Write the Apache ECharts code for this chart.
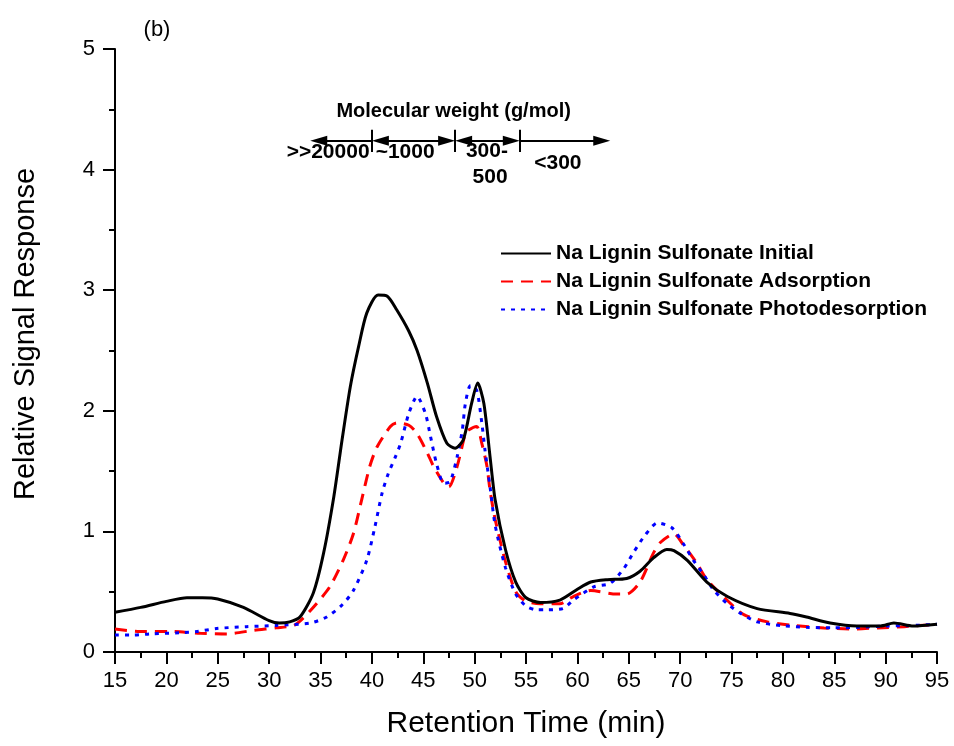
<!DOCTYPE html>
<html>
<head>
<meta charset="utf-8">
<script src="https://cdn.jsdelivr.net/npm/echarts@6/dist/echarts.min.js"></script>
<style>html,body{margin:0;padding:0;background:#fff;}#c{width:954px;height:746px;}</style>
</head>
<body>
<div id="c"></div>
<script>
// Retention time (min) and relative signal for each series
const initialX = [15,17.5,20,22,23.5,25,27.5,30,31,32,33,34.3,35.3,36.3,37.1,37.9,38.7,39.5,40.6,41.5,42.4,43.6,44.4,45.4,46.3,47.3,48.1,48.9,49.7,50.3,50.9,51.5,52,53,54,55,56.4,58.3,60,61.3,62.9,64.8,66.1,67.4,68.7,69.4,70.7,72.6,74.6,77.5,80.7,82.3,84.6,87.2,89.5,90.8,92.7,95];
const initialY = [0.33,0.37,0.42,0.45,0.45,0.44,0.37,0.26,0.24,0.25,0.29,0.49,0.82,1.29,1.76,2.20,2.53,2.81,2.96,2.95,2.84,2.66,2.50,2.23,1.95,1.73,1.69,1.76,2.06,2.23,2.06,1.62,1.26,0.85,0.58,0.45,0.41,0.43,0.52,0.58,0.60,0.61,0.67,0.78,0.85,0.84,0.76,0.58,0.46,0.36,0.32,0.29,0.24,0.215,0.215,0.24,0.215,0.23];

const adsorptionX = [15,17.4,20.4,23.3,25.9,28.5,30.7,32.4,33.3,34.5,35.9,37.2,38.2,39,39.8,40.5,41.8,42.4,43.6,44.4,45.4,46,47,47.5,48.3,49.1,49.4,50.2,50.7,51.2,51.5,52,53,54,55,56.4,58.3,59.6,61.3,63.8,64.8,66.1,67.4,68.1,69.4,70.3,71.6,72.6,74.2,76.2,78.5,81,84,86.6,89.2,91.8,95];
const adsorptionY = [0.19,0.17,0.17,0.155,0.15,0.18,0.20,0.22,0.28,0.39,0.54,0.76,0.98,1.26,1.54,1.70,1.87,1.90,1.88,1.81,1.65,1.54,1.40,1.37,1.54,1.81,1.84,1.87,1.73,1.54,1.34,1.10,0.75,0.50,0.42,0.40,0.40,0.46,0.51,0.48,0.48,0.58,0.82,0.91,0.98,0.89,0.74,0.60,0.46,0.31,0.25,0.22,0.20,0.19,0.20,0.21,0.23];

const photoX = [15,16.8,18.4,21.3,23,24.9,27.8,30.7,34,35.6,37.1,38.2,39.5,40.3,41,41.6,42.3,42.8,43.6,44.4,45.2,45.7,46.3,47,47.6,48.3,48.8,49.1,49.6,50.2,50.7,51,51.5,52,53,54,55,56,57,58.6,59.6,61.6,63.2,64.5,65.5,66.6,67.8,69.2,70.3,71.3,72.3,73.3,74.6,75.9,77.5,79.8,82.3,84.9,87.5,90.1,92.7,95];
const photoY = [0.14,0.14,0.15,0.16,0.17,0.195,0.21,0.22,0.24,0.29,0.39,0.51,0.76,1.04,1.32,1.48,1.62,1.73,1.98,2.12,1.98,1.79,1.56,1.40,1.41,1.62,1.84,2.06,2.21,2.17,1.90,1.68,1.37,1.05,0.70,0.48,0.38,0.35,0.35,0.36,0.43,0.54,0.57,0.69,0.83,0.97,1.07,1.03,0.90,0.76,0.64,0.51,0.40,0.32,0.25,0.22,0.205,0.20,0.205,0.215,0.22,0.23];

const seriesNames = ['Na Lignin Sulfonate Initial','Na Lignin Sulfonate Adsorption','Na Lignin Sulfonate Photodesorption'];

// Molecular weight annotation (retention-time boundaries and labels)
const mwBounds = [34, 40, 48.1, 54.4, 63.2];
const mwLevel = 4.24;
const mwLabels = ['>>20000','~1000','300-','500','<300'];
const mwTitle = 'Molecular weight (g/mol)';

function pairs(xs, ys){ return xs.map((x,i)=>[x, ys[i]]); }

const chart = echarts.init(document.getElementById('c'), null, {renderer:'canvas'});
const FONT = 'Liberation Sans, Arial, sans-serif';

// arrow segments: [from, to, fromArrow, toArrow]
const arrowLen = 17/10.27;
const segs = [
  [mwBounds[1], mwBounds[0], false, true],
  [mwBounds[1], mwBounds[2], true, true],
  [mwBounds[2], mwBounds[3], true, true],
  [mwBounds[3], mwBounds[4], false, true]
];
const mlData = [];
segs.forEach(s=>{
  const dir = s[1] > s[0] ? 1 : -1;
  const a = s[2] ? s[0] + dir*arrowLen/2 : s[0];
  const b = s[3] ? s[1] - dir*arrowLen/2 : s[1];
  mlData.push([
    {coord:[a, mwLevel], symbol: s[2] ? 'triangle' : 'none', symbolSize:[10,17]},
    {coord:[b, mwLevel], symbol: s[3] ? 'triangle' : 'none', symbolSize:[10,17]}
  ]);
});
[mwBounds[1], mwBounds[2], mwBounds[3]].forEach(x=>{
  mlData.push([{coord:[x, 4.146], symbol:'none'},{coord:[x, 4.33], symbol:'none'}]);
});

chart.setOption({
  animation:false,
  backgroundColor:'#fff',
  grid:{left:115, right:17, top:49, bottom:94},
  legend:{
    orient:'vertical', left:500, top:243, padding:0,
    itemWidth:50, itemHeight:14, itemGap:7,
    itemStyle:{color:'transparent', borderWidth:0, opacity:0},
    textStyle:{fontFamily:FONT, fontWeight:'bold', fontSize:21, color:'#000', lineHeight:20},
    data: seriesNames
  },
  xAxis:{
    type:'value', min:15, max:95, interval:5,
    name:'Retention Time (min)', nameLocation:'middle', nameGap:57,
    nameTextStyle:{fontFamily:FONT, fontSize:30, color:'#000'},
    axisLine:{show:true, lineStyle:{color:'#000', width:2}},
    axisTick:{show:true, inside:false, length:12, lineStyle:{color:'#000', width:2}},
    minorTick:{show:true, splitNumber:2, length:6, lineStyle:{color:'#000', width:2}},
    axisLabel:{fontFamily:FONT, fontSize:22, color:'#000', margin:18},
    splitLine:{show:false}
  },
  yAxis:{
    type:'value', min:0, max:5, interval:1,
    axisLine:{show:true, lineStyle:{color:'#000', width:2}},
    axisTick:{show:true, inside:false, length:12, lineStyle:{color:'#000', width:2}},
    minorTick:{show:true, splitNumber:2, length:6, lineStyle:{color:'#000', width:2}},
    axisLabel:{fontFamily:FONT, fontSize:22, color:'#000', margin:20},
    splitLine:{show:false}
  },
  series:[
    {
      name:seriesNames[0], type:'line', data:pairs(initialX, initialY),
      symbol:'none', smooth:0.25, z:3,
      lineStyle:{color:'#000', width:3, type:'solid'}, itemStyle:{color:'#000'},
      markLine:{
        silent:true, animation:false, symbol:['none','none'],
        label:{show:false},
        lineStyle:{color:'#000', width:2, type:'solid'},
        emphasis:{disabled:true},
        data: mlData
      }
    },
    {
      name:seriesNames[1], type:'line', data:pairs(adsorptionX, adsorptionY),
      symbol:'none', smooth:0.25, z:2,
      lineStyle:{color:'#ff0000', width:3, type:[12,8]}, itemStyle:{color:'#ff0000'}
    },
    {
      name:seriesNames[2], type:'line', data:pairs(photoX, photoY),
      symbol:'none', smooth:0.25, z:2,
      lineStyle:{color:'#0000ff', width:3, type:[4,6]}, itemStyle:{color:'#0000ff'}
    }
  ]
});

function px(x,y){ return chart.convertToPixel({gridIndex:0}, [x,y]); }
const t = (pos, text, size, weight) => ({
  type:'text', x:pos[0], y:pos[1],
  style:{text:text, fill:'#000', font: weight+' '+size+'px '+FONT, textAlign:'center', textVerticalAlign:'middle'}
});
chart.setOption({
  graphic:[
    t(px(47.96, 4.48), mwTitle, 20, 'bold'),
    t(px(35.74, 4.146), mwLabels[0], 21, 'bold'),
    t(px(43.24, 4.146), mwLabels[1], 21, 'bold'),
    t(px(51.2, 4.155), mwLabels[2], 21, 'bold'),
    t(px(51.5, 3.94), mwLabels[3], 21, 'bold'),
    t(px(58.1, 4.05), mwLabels[4], 21, 'bold'),
    {type:'text', x:157, y:30, style:{text:'(b)', fill:'#000', font:'22px '+FONT, textAlign:'center', textVerticalAlign:'middle'}},
    {type:'text', x:26, y:334, rotation:Math.PI/2,
     style:{text:'Relative Signal Response', fill:'#000', font:'29px '+FONT, textAlign:'center', textVerticalAlign:'middle'}}
  ]
});
</script>
</body>
</html>
